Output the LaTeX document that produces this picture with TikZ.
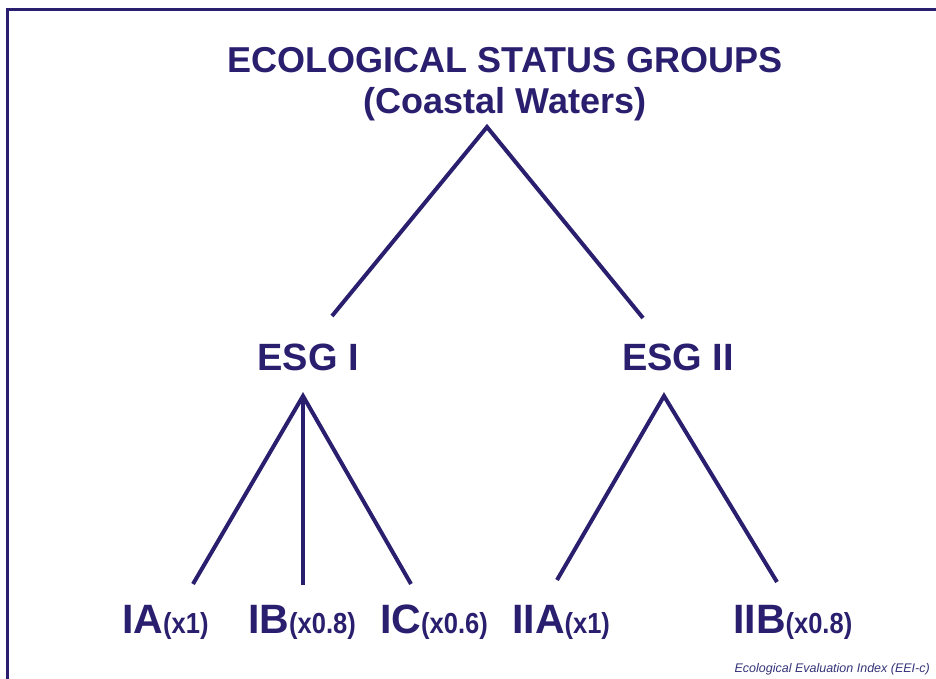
\documentclass[tikz,border=0pt]{standalone}
\usepackage{fontspec}
\setmainfont{Liberation Sans}
\definecolor{navy}{HTML}{2A1F6E}
\definecolor{footc}{HTML}{34347A}
\begin{document}
\begin{tikzpicture}[x=1pt,y=-1pt,
  txt/.style={inner sep=0pt,text=navy,font=\bfseries},
  link/.style={draw=navy,line width=4pt},
  ]
\useasboundingbox (0,0) rectangle (936,678);
\clip (0,0) rectangle (936,678);
\fill[white] (0,0) rectangle (936,678);
\draw[navy,line width=3pt] (7.5,9.5) rectangle (960,700);

\node[txt,anchor=base,font=\bfseries\fontsize{36}{40}\selectfont] (title) at (505,72) {ECOLOGICAL STATUS GROUPS};
\node[txt,anchor=base,font=\bfseries\fontsize{36}{40}\selectfont] (sub) at (505,113) {(Coastal Waters)};

\node[txt,anchor=base,font=\bfseries\fontsize{38}{42}\selectfont] (esg1) at (308,370) {ESG I};
\node[txt,anchor=base,font=\bfseries\fontsize{38}{42}\selectfont] (esg2) at (678,370) {ESG II};

\newcommand{\lab}[2]{{\fontsize{41}{44}\selectfont #1}\scalebox{0.88}[1]{\fontsize{29}{32}\selectfont #2}}
\node[txt,anchor=base west] (ia) at (122,633) {\lab{IA}{(x1)}};
\node[txt,anchor=base west] (ib) at (248,633) {\lab{IB}{(x0.8)}};
\node[txt,anchor=base west] (ic) at (380,633) {\lab{IC}{(x0.6)}};
\node[txt,anchor=base west] (iia) at (512,633) {\lab{IIA}{(x1)}};
\node[txt,anchor=base west] (iib) at (733,633) {\lab{IIB}{(x0.8)}};

\node[inner sep=0pt,anchor=base east,text=footc,font=\itshape\fontsize{12.5}{14}\selectfont] (foot) at (930,672) {Ecological Evaluation Index (EEI-c)};

% connector points
\coordinate (top) at (487,127);
\coordinate (e1t) at (332,316);
\coordinate (e2t) at (643,318);
\coordinate (e1b) at (303,396);
\coordinate (e2b) at (664,396);
\coordinate (iaT) at (193,584);
\coordinate (ibT) at (303,585);
\coordinate (icT) at (411,584);
\coordinate (iiaT) at (557,580);
\coordinate (iibT) at (777,582);

\draw[link] (e1t) -- (top) -- (e2t);
\draw[link] (iaT) -- (e1b) -- (icT);
\draw[link] (e1b) -- (ibT);
\draw[link] (iiaT) -- (e2b) -- (iibT);
\end{tikzpicture}
\end{document}
